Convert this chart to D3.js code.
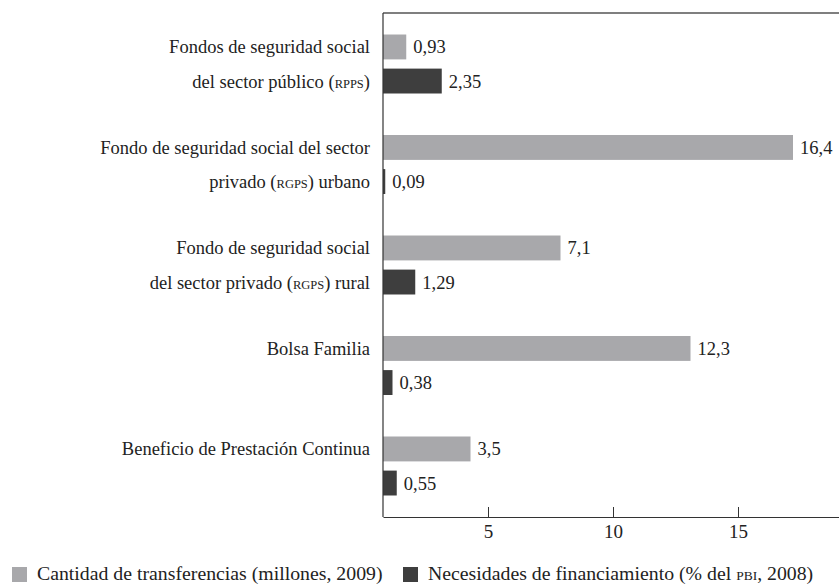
<!DOCTYPE html>
<html><head><meta charset="utf-8">
<script src="https://cdn.jsdelivr.net/npm/d3@7"></script>
<style>body{margin:0;background:#fff}svg{display:block}text{font-family:"Liberation Serif","DejaVu Serif",serif;fill:#222}</style>
</head><body><svg id="c" width="839" height="584"></svg>
<script>
const categories = [
  ["Fondos de seguridad social", "del sector público (|RPPS|)"],
  ["Fondo de seguridad social del sector", "privado (|RGPS|) urbano"],
  ["Fondo de seguridad social", "del sector privado (|RGPS|) rural"],
  ["Bolsa Familia"],
  ["Beneficio de Prestación Continua"]
];
const transfers = [0.93, 16.4, 7.1, 12.3, 3.5];
const financing = [2.35, 0.09, 1.29, 0.38, 0.55];
const transferLabels = ["0,93", "16,4", "7,1", "12,3", "3,5"];
const financingLabels = ["2,35", "0,09", "1,29", "0,38", "0,55"];
const tickValues = [5, 10, 15];
const seriesNames = ["Cantidad de transferencias (millones, 2009)", "Necesidades de financiamiento (% del |PBI|, 2008)"];
const colors = ["#a8a8ab", "#3e3e3e"];

const svg = d3.select("#c");
const L = 383, R = 839, T = 13, B = 517;
const x = d3.scaleLinear().domain([0, 18.24]).range([L, R]);
// axis as printed in the reference (ticks offset from bar origin)
const xAxisScale = d3.scaleLinear().domain([0.8, 19.04]).range([L, R]);
const y = d3.scaleBand().domain(d3.range(categories.length)).range([T, B]).paddingInner(0.413).paddingOuter(0.214);
const yi = d3.scaleBand().domain([0, 1]).range([0, y.bandwidth()]).paddingInner(0.27);

const rows = categories.map((c, i) => ({c, i, vals: [transfers[i], financing[i]], labs: [transferLabels[i], financingLabels[i]]}));

const g = svg.append("g");
rows.forEach(r => {
  [0, 1].forEach(k => {
    const y0 = y(r.i) + yi(k);
    g.append("rect").attr("x", x(0)).attr("y", y0).attr("width", x(r.vals[k]) - x(0)).attr("height", yi.bandwidth()).attr("fill", colors[k]);
    g.append("text").attr("x", x(r.vals[k]) + 7).attr("y", y0 + yi.bandwidth() / 2).attr("dy", "0.35em").attr("font-size", 18.5).text(r.labs[k]);
  });
  r.c.forEach((line, j) => {
    const t = g.append("text").attr("x", 370).attr("y", y(r.i) + yi(j) + yi.bandwidth() / 2).attr("dy", "0.35em").attr("text-anchor", "end").attr("font-size", 18.5);
    line.split("|").forEach((part, p) => {
      t.append("tspan").attr("font-size", p % 2 ? 12.5 : null).text(part);
    });
  });
});

// frame
svg.append("line").attr("x1", L).attr("x2", R).attr("y1", T).attr("y2", T).attr("stroke", "#555").attr("stroke-width", 1.3);
svg.append("line").attr("x1", L).attr("x2", L).attr("y1", T).attr("y2", B).attr("stroke", "#333").attr("stroke-width", 1.2);

const ax = svg.append("g").attr("transform", `translate(0,${B})`)
  .call(d3.axisBottom(xAxisScale).tickValues(tickValues).tickSizeInner(-10).tickSizeOuter(0).tickPadding(8).tickFormat(d3.format("d")));
ax.select(".domain").attr("stroke", "#333").attr("stroke-width", 1.2);
ax.selectAll(".tick line").attr("stroke", "#333");
ax.selectAll("text").attr("font-size", 19).attr("font-family", "Liberation Serif").attr("fill", "#222");

// legend
const legX = [12, 403];
seriesNames.forEach((n, k) => {
  svg.append("rect").attr("x", legX[k]).attr("y", 567).attr("width", 15).attr("height", 15).attr("fill", colors[k]);
  const t = svg.append("text").attr("x", legX[k] + 25).attr("y", 573).attr("dy", "0.35em").attr("font-size", 19.8);
  n.split("|").forEach((part, p) => t.append("tspan").attr("font-size", p % 2 ? 13.5 : null).text(part));
});
</script></body></html>
